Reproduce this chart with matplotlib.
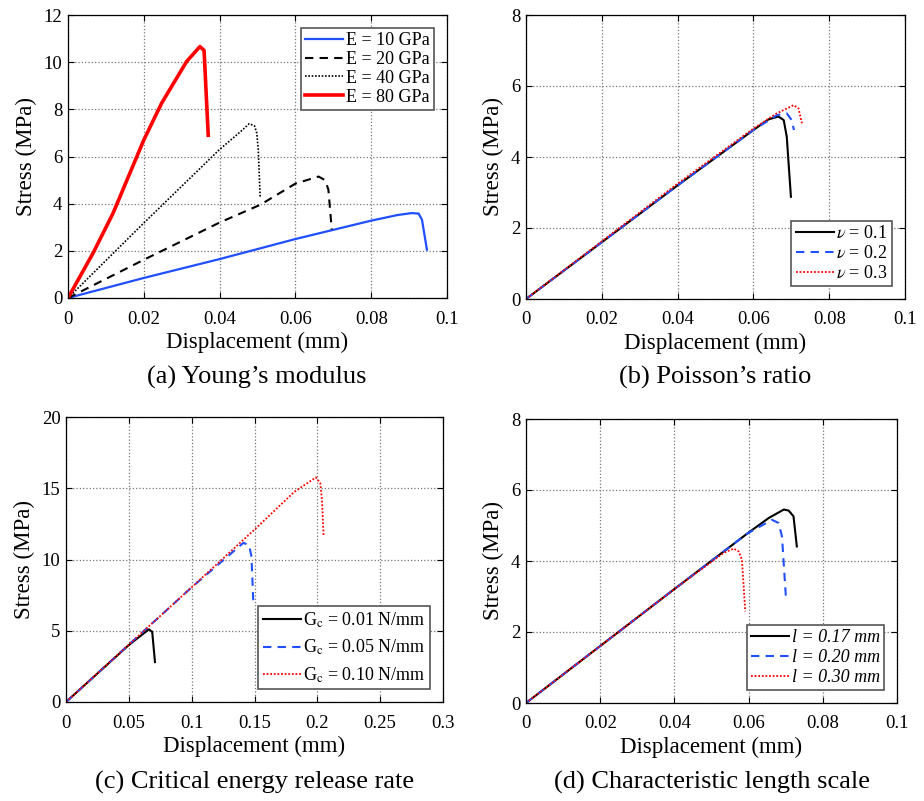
import numpy as np
import matplotlib
matplotlib.use('Agg')
import matplotlib.pyplot as plt
from matplotlib.ticker import FuncFormatter

plt.rcParams['font.family'] = ['Liberation Serif', 'DejaVu Serif']
plt.rcParams['mathtext.fontset'] = 'stix'

# (a) Young's modulus
e10_x = [0, 0.02, 0.04, 0.06, 0.08, 0.087, 0.0907, 0.0925, 0.0934, 0.0947]
e10_y = [0, 0.85, 1.65, 2.5, 3.28, 3.52, 3.60, 3.58, 3.32, 2.05]
e20_x = [0, 0.02, 0.04, 0.0507, 0.06, 0.0661, 0.0678, 0.0687, 0.0696]
e20_y = [0, 1.62, 3.2, 3.95, 4.85, 5.15, 5.0, 4.6, 2.9]
e40_x = [0, 0.02, 0.04, 0.0455, 0.0478, 0.0492, 0.0498, 0.0502, 0.0507]
e40_y = [0, 3.18, 6.3, 7.05, 7.39, 7.3, 7.0, 6.3, 4.3]
e80_x = [0, 0.0066, 0.0119, 0.02, 0.0247, 0.0313, 0.0348, 0.0359, 0.037]
e80_y = [0, 1.9, 3.6, 6.7, 8.26, 10.03, 10.66, 10.5, 6.9]

# (b) Poisson's ratio
nu1_x = [0, 0.04, 0.06, 0.064, 0.0666, 0.068, 0.0688, 0.0699]
nu1_y = [0, 3.2, 4.76, 5.06, 5.14, 5.04, 4.57, 2.88]
nu2_x = [0, 0.04, 0.06, 0.0662, 0.0688, 0.0701, 0.0707]
nu2_y = [0, 3.2, 4.76, 5.18, 5.23, 5.04, 4.76]
nu3_x = [0, 0.04, 0.06, 0.066, 0.0706, 0.0719, 0.0728]
nu3_y = [0, 3.25, 4.8, 5.22, 5.46, 5.37, 4.95]

# (c) Critical energy release rate
gc1_x = [0, 0.05, 0.066, 0.0686, 0.0708]
gc1_y = [0, 4.0, 5.1, 4.92, 2.8]
gc2_x = [0, 0.1, 0.1412, 0.1457, 0.1476, 0.149]
gc2_y = [0, 8.05, 11.17, 11.0, 10.19, 7.14]
gc3_x = [0, 0.1, 0.15, 0.1817, 0.1989, 0.2024, 0.2037, 0.205]
gc3_y = [0, 8.05, 12.1, 14.75, 15.76, 15.34, 14.17, 11.6]

# (d) Characteristic length scale
l17_x = [0, 0.04, 0.0596, 0.0654, 0.0695, 0.0708, 0.0721, 0.073]
l17_y = [0, 3.21, 4.77, 5.21, 5.45, 5.42, 5.26, 4.41]
l20_x = [0, 0.04, 0.0596, 0.0663, 0.0681, 0.069, 0.0701]
l20_y = [0, 3.21, 4.77, 5.16, 5.07, 4.69, 2.91]
l30_x = [0, 0.04, 0.0533, 0.056, 0.0573, 0.0582, 0.0591]
l30_y = [0, 3.21, 4.23, 4.35, 4.27, 4.04, 2.58]

W, H = 924, 801
fig = plt.figure(figsize=(W / 100, H / 100), dpi=100)


def make_axes(l, t, r, b):
    return fig.add_axes([l / W, 1 - b / H, (r - l) / W, (b - t) / H])


def style(ax, xmax, xstep, ymax, ystep):
    ax.set_xlim(0, xmax)
    ax.set_ylim(0, ymax)
    ax.set_xticks(np.arange(0, xmax + xstep / 2, xstep))
    ax.set_yticks(np.arange(0, ymax + ystep / 2, ystep))
    fmt = FuncFormatter(lambda v, p: '%g' % round(v, 4))
    ax.xaxis.set_major_formatter(fmt)
    ax.yaxis.set_major_formatter(fmt)
    ax.tick_params(direction='in', top=True, right=True, labelsize=13.5, length=4)
    ax.tick_params(axis='x', pad=9)
    ax.tick_params(axis='y', pad=4)
    ax.grid(True, linestyle=':', color='#777777', linewidth=0.9)
    ax.set_xlabel('Displacement (mm)', fontsize=16.5, labelpad=3)
    ax.set_ylabel('Stress (MPa)', fontsize=16.5, labelpad=5)
    for s in ax.spines.values():
        s.set_linewidth(0.9)


def legend(ax, loc, spacing=0.1, **kw):
    lg = ax.legend(loc=loc, fontsize=13, fancybox=False, framealpha=1,
                   edgecolor='#555555', handlelength=2.1, borderpad=0.25,
                   labelspacing=spacing, handletextpad=0.15, borderaxespad=0.7, **kw)
    lg.get_frame().set_linewidth(1.2)


blue = '#1f4fff'
red = '#ff0000'
dash = (0, (4, 3))
dots = (0, (1, 1))

ax = make_axes(68, 15, 447, 298)
ax.plot(e10_x, e10_y, color=blue, lw=1.6, label='E = 10 GPa')
ax.plot(e20_x, e20_y, color='black', lw=1.5, ls=dash, label='E = 20 GPa')
ax.plot(e40_x, e40_y, color='black', lw=1.2, ls=dots, label='E = 40 GPa')
ax.plot(e80_x, e80_y, color=red, lw=2.6, label='E = 80 GPa')
style(ax, 0.1, 0.02, 12, 2)
legend(ax, 'upper right')
fig.text(257 / W, 1 - 377 / H, "(a) Young\u2019s modulus", ha='center', va='center', fontsize=19)

ax = make_axes(526, 15, 905, 299)
ax.plot(nu1_x, nu1_y, color='black', lw=1.5, label=r'$\nu$ = 0.1')
ax.plot(nu2_x, nu2_y, color=blue, lw=1.5, ls=dash, label=r'$\nu$ = 0.2')
ax.plot(nu3_x, nu3_y, color=red, lw=1.3, ls=dots, label=r'$\nu$ = 0.3')
style(ax, 0.1, 0.02, 8, 2)
legend(ax, 'lower right', spacing=0.15)
fig.text(715 / W, 1 - 377 / H, "(b) Poisson\u2019s ratio", ha='center', va='center', fontsize=19)

ax = make_axes(66, 417, 443, 702)
ax.plot(gc1_x, gc1_y, color='black', lw=1.5, label=r'G$_\mathrm{c}$ = 0.01 N/mm')
ax.plot(gc2_x, gc2_y, color=blue, lw=1.5, ls=dash, label=r'G$_\mathrm{c}$ = 0.05 N/mm')
ax.plot(gc3_x, gc3_y, color=red, lw=1.3, ls=dots, label=r'G$_\mathrm{c}$ = 0.10 N/mm')
style(ax, 0.3, 0.05, 20, 5)
legend(ax, 'lower right', spacing=0.45)
fig.text(255 / W, 1 - 782 / H, "(c) Critical energy release rate", ha='center', va='center', fontsize=19)

ax = make_axes(526, 419, 897, 703)
ax.plot(l17_x, l17_y, color='black', lw=1.5, label='l = 0.17 mm')
ax.plot(l20_x, l20_y, color=blue, lw=1.5, ls=dash, label='l = 0.20 mm')
ax.plot(l30_x, l30_y, color=red, lw=1.3, ls=dots, label='l = 0.30 mm')
style(ax, 0.1, 0.02, 8, 2)
legend(ax, 'lower right', spacing=0.15, prop={'style': 'italic', 'size': 13})
fig.text(712 / W, 1 - 782 / H, "(d) Characteristic length scale", ha='center', va='center', fontsize=19)

fig.savefig('out.png', dpi=100)
